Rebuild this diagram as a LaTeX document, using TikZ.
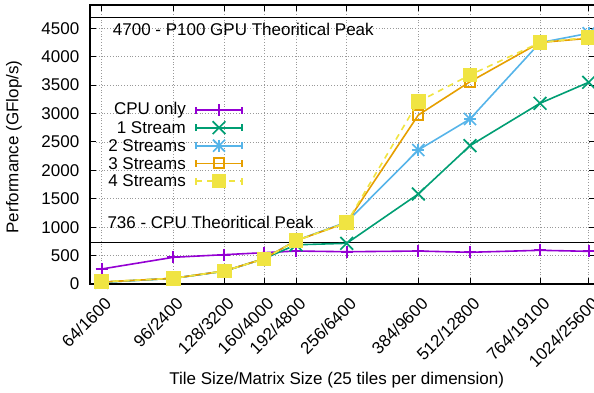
\documentclass[tikz,border=0pt]{standalone}
\usepackage{fontspec}
\setmainfont{Liberation Sans}
\usetikzlibrary{plotmarks}
\definecolor{gpPurple}{HTML}{9400D3}
\definecolor{gpGreen}{HTML}{009E73}
\definecolor{gpBlue}{HTML}{56B4E9}
\definecolor{gpOrange}{HTML}{E69F00}
\definecolor{gpYellow}{HTML}{F0E442}
\tikzset{
  lbl/.style={font=\fontsize{17}{20}\selectfont,inner sep=0pt},
  gridline/.style={gray!80,dotted,line width=0.8pt},
  tic/.style={line width=0.9pt},
  curve/.style={line width=1.6pt,mark options={solid,line width=1.7pt}},
}
\begin{document}
\begin{tikzpicture}[x=1pt,y=1pt]
\useasboundingbox (0,0) rectangle (594,392);
% grid and ticks
\foreach \v in {0,500,...,4500}{
  \draw[gridline] (96,{108+0.05682*\v}) -- (589,{108+0.05682*\v});
  \draw[tic] (90,{108+0.05682*\v}) -- (96,{108+0.05682*\v});
  \draw[tic] (589,{108+0.05682*\v}) -- (595,{108+0.05682*\v});
  \draw (79.5,{108+0.05682*\v}) node[lbl,anchor=east]{\v};
}
\foreach \x/\a/\b in {101.7/64/1600,173.3/96/2400,224.3/128/3200,264/160/4000,
    296/192/4800,346.7/256/6400,418.3/384/9600,470/512/12800,540/764/19100,588.7/1024/25600}{
  \draw[gridline] (\x,114) -- (\x,381);
  \draw[tic] (\x,108) -- (\x,114);
  \draw[tic] (\x,387) -- (\x,381);
  \draw (\x+2,96) node[lbl,rotate=45,anchor=north east]{\a/\b};
}
% peak lines
\draw[line width=0.9pt] (90,375) -- (595,375);
\draw[line width=0.9pt] (90,149.8) -- (595,149.8);
\draw (112.7,363) node[lbl,anchor=west]{4700 - P100 GPU Theoritical Peak};
\draw (107.3,169.2) node[lbl,anchor=west]{736 - CPU Theoritical Peak};
\draw[line width=1.2pt] (90,108) rectangle (595,387);
% axis titles
\draw (336.7,12) node[lbl]{Tile Size/Matrix Size (25 tiles per dimension)};
\draw (14,245) node[lbl,rotate=90]{Performance (GFlop/s)};
% curves
\begin{scope}[yshift=108pt,y=0.05682pt]
\draw[curve,gpPurple,mark=+,mark size=6pt] plot coordinates {(101.7,264) (173.3,470)
  (224.3,516) (264,551) (296,580) (346.7,568) (418.3,580) (470,558) (540,593) (588.7,575)};
\draw[curve,gpGreen,mark=x,mark size=9pt] plot coordinates {(101.7,30) (173.3,100)
  (224.3,225) (264,445) (296,690) (346.7,716) (418.3,1584) (470,2434) (540,3180) (588.7,3550)};
\draw[curve,gpBlue,mark=+,mark size=6pt] plot coordinates {(101.7,30) (173.3,100)
  (224.3,228) (264,445) (296,765) (346.7,1090) (418.3,2358) (470,2904) (540,4247) (588.7,4412)};
\draw[curve,gpBlue,mark=x,mark size=8.5pt] plot[only marks] coordinates {(101.7,30) (173.3,100)
  (224.3,228) (264,445) (296,765) (346.7,1090) (418.3,2358) (470,2904) (540,4247) (588.7,4412)};
\draw[curve,gpOrange,mark=square,mark size=5pt] plot coordinates {(101.7,35) (173.3,100)
  (224.3,229) (264,445) (296,762) (346.7,1079) (418.3,2974) (470,3560) (540,4250) (588.7,4324)};
\draw[curve,gpYellow,dash pattern=on 6pt off 5pt,mark=square*,mark size=6.5pt]
  plot coordinates {(101.7,40) (173.3,100) (224.3,229) (264,440) (296,762)
  (346.7,1079) (418.3,3208) (470,3678) (540,4250) (588.7,4340)};
\end{scope}
% key
\foreach \y/\t in {282/CPU only,264.3/1 Stream,246.3/2 Streams,228.7/3 Streams,211/4 Streams}
  \draw (186,\y) node[lbl,anchor=east]{\t};
\draw[curve,gpPurple] (196,282) -- (242,282) (196,278.5) -- (196,285.5) (242,278.5) -- (242,285.5);
\draw[gpPurple,line width=1.7pt] plot[mark=+,mark size=6pt] coordinates {(219,282)};
\draw[curve,gpGreen] (196,264.3) -- (242,264.3) (196,260.8) -- (196,267.8) (242,260.8) -- (242,267.8);
\draw[gpGreen,line width=1.7pt] plot[mark=x,mark size=9pt] coordinates {(219,264.3)};
\draw[curve,gpBlue] (196,246.3) -- (242,246.3) (196,242.8) -- (196,249.8) (242,242.8) -- (242,249.8);
\draw[gpBlue,line width=1.7pt] plot[mark=+,mark size=6pt] coordinates {(219,246.3)};
\draw[gpBlue,line width=1.7pt] plot[mark=x,mark size=8.5pt] coordinates {(219,246.3)};
\draw[curve,gpOrange] (196,228.7) -- (242,228.7) (196,225.2) -- (196,232.2) (242,225.2) -- (242,232.2);
\draw[gpOrange,line width=1.7pt] plot[mark=square,mark size=5pt] coordinates {(219,228.7)};
\draw[curve,gpYellow,dash pattern=on 6pt off 5pt] (196,211) -- (242,211);
\draw[curve,gpYellow] (196,207.5) -- (196,214.5) (242,207.5) -- (242,214.5);
\draw[gpYellow,fill=gpYellow] plot[mark=square*,mark size=6.5pt] coordinates {(219,211)};
\end{tikzpicture}
\end{document}
